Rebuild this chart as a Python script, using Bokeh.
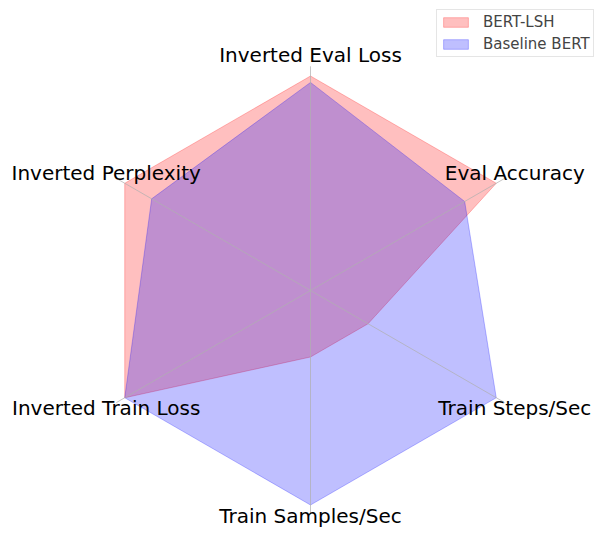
import numpy as np
from bokeh.plotting import figure
from bokeh.models import Legend, LegendItem, ColumnDataSource
from bokeh.core.properties import value
from bokeh.embed import file_html
from bokeh.resources import INLINE

categories = ["Inverted Eval Loss", "Eval Accuracy", "Train Steps/Sec",
              "Train Samples/Sec", "Inverted Train Loss", "Inverted Perplexity"]
bert_lsh = [1.0, 1.0, 0.31, 0.31, 1.0, 1.0]
baseline_bert = [0.97, 0.83, 1.0, 1.0, 1.0, 0.855]
series_names = ["BERT-LSH", "Baseline BERT"]
series_colors = ["#ff0000", "#0000ff"]

W, H = 595, 528
cx, cy = 310, 290
scale = 214.5
r_max = 1.045
label_r = 1.10

p = figure(width=W, height=H, output_backend="svg", toolbar_location=None,
           x_range=(-cx / scale, (W - cx) / scale),
           y_range=(-(H - cy) / scale, cy / scale),
           min_border=0, outline_line_color=None)
p.axis.visible = False
p.grid.visible = False
p.background_fill_color = "white"

n = len(categories)
angles = np.pi / 2 - np.arange(n) * 2 * np.pi / n

items = []
for name, vals, col in zip(series_names, [bert_lsh, baseline_bert], series_colors):
    v = np.array(vals)
    xs = list(v * np.cos(angles))
    ys = list(v * np.sin(angles))
    r = p.patch(xs, ys, fill_color=col, fill_alpha=0.25, line_color=col,
                line_alpha=0.25, line_width=1)
    items.append(LegendItem(label=name, renderers=[r]))

# spokes
p.segment(x0=[0] * n, y0=[0] * n, x1=list(r_max * np.cos(angles)),
          y1=list(r_max * np.sin(angles)), line_color="#b0b0b0", line_width=0.8,
          line_alpha=0.9)

lx = label_r * np.cos(angles)
ly = label_r * np.sin(angles)
ymin = -(H - cy - 13) / scale  # keep label inside the canvas
ly = np.maximum(ly, ymin)
src = ColumnDataSource(dict(x=list(lx), y=list(ly), t=categories))
p.text(x="x", y="y", text="t", source=src, text_align="center",
       text_baseline="middle", text_font=value("DejaVu Sans"),
       text_font_size="20px", text_color="black")

legend = Legend(items=items, location=(436, H - 57), margin=0,
                label_text_font="DejaVu Sans", label_text_font_size="15px",
                glyph_width=31, glyph_height=12, label_height=16,
                spacing=4, padding=3, label_standoff=12,
                border_line_color="#cccccc", border_line_width=1,
                background_fill_alpha=0.8)
p.add_layout(legend)

open("out.html", "w").write(file_html(p, INLINE))
